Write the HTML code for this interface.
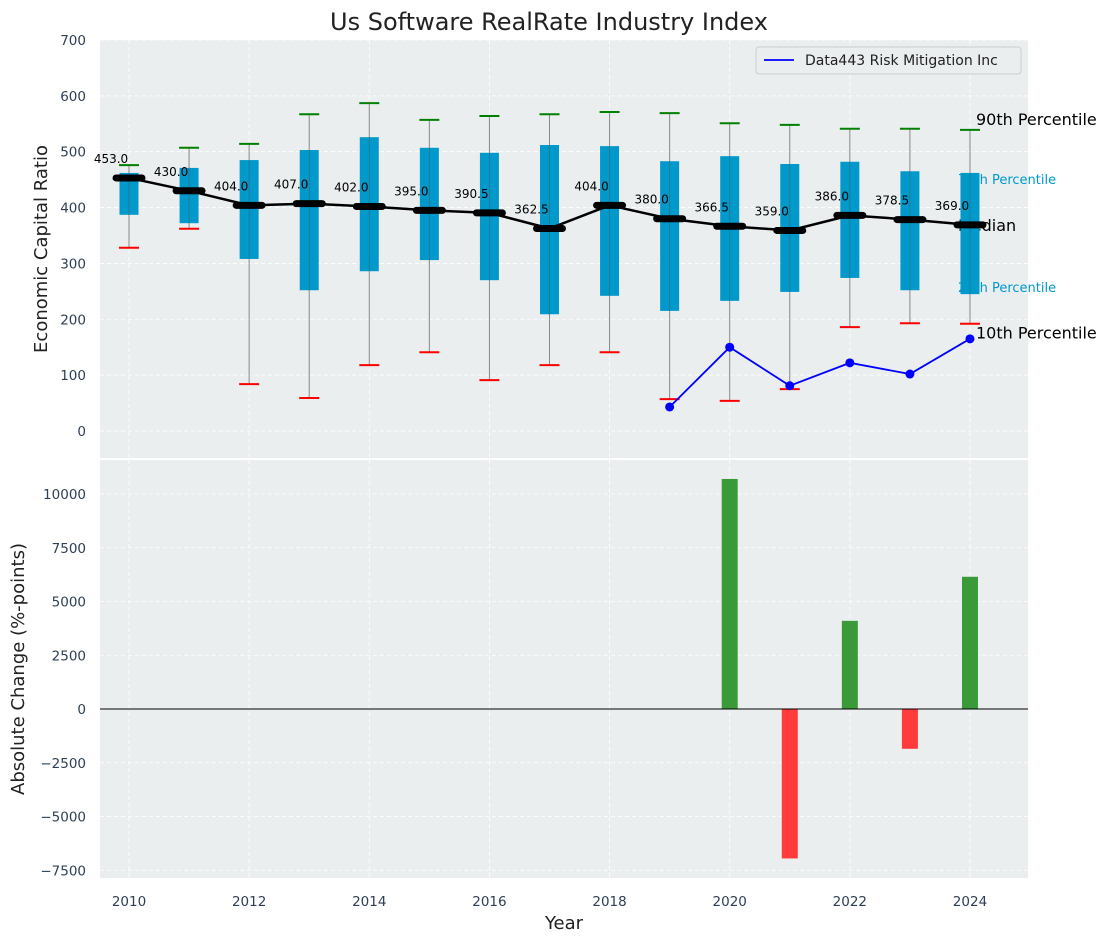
<!DOCTYPE html>
<html><head><meta charset="utf-8"><style>
body{margin:0;background:#fff;font-family:"Liberation Sans","DejaVu Sans",sans-serif}
svg text{font-family:"DejaVu Sans","Liberation Sans",sans-serif}
</style></head><body>
<svg id="c" width="1111" height="942" xmlns="http://www.w3.org/2000/svg">
<rect x="100" y="40" width="928" height="418" fill="#eaeeef"/>
<rect x="100" y="460" width="928" height="418" fill="#eaeeef"/>
<text x="549" y="30" font-size="24" text-anchor="middle" fill="#222">Us Software RealRate Industry Index</text>
<g id="g"></g>
</svg>
<script>
const years=[2010,2011,2012,2013,2014,2015,2016,2017,2018,2019,2020,2021,2022,2023,2024];
const q1=[387,372,308,252,286,306,270,209,242,215,233,249,274,252,245];
const q3=[462,471,485,503,526,507,498,512,510,483,492,478,482,465,462];
const p10=[328,362,84,59,118,141,91,118,141,57,54,75,186,193,192];
const p90=[476,507,514,567,587,557,564,567,571,569,551,548,541,541,539];
const medians=[453,430,404,407,402,395,390.5,362.5,404,380,366.5,359,386,378.5,369];
const compYears=[2019,2020,2021,2022,2023,2024];
const compVals=[43,150,81,122,102,165];
const chgYears=[2020,2021,2022,2023,2024];
const chgVals=[10700,-6950,4100,-1850,6150];
const topTicks=[0,100,200,300,400,500,600,700];
const botTicks=[-7500,-5000,-2500,0,2500,5000,7500,10000];
const xTicks=[2010,2012,2014,2016,2018,2020,2022,2024];

const X=y=>129+(y-2010)*60.07;
const YT=v=>431-v*0.5586;
const YB=v=>709-v*0.0215;
const NS='http://www.w3.org/2000/svg';
const g=document.getElementById('g');
function el(t,a,txt){const e=document.createElementNS(NS,t);for(const k in a)e.setAttribute(k,a[k]);if(txt!==undefined)e.textContent=txt;g.appendChild(e);return e;}

topTicks.forEach(v=>{
  el('line',{x1:100,x2:1028,y1:YT(v),y2:YT(v),stroke:'#fff','stroke-dasharray':'4,3','stroke-width':0.8});
  const t=el('text',{x:86,y:YT(v)+5,'font-size':13.5,'text-anchor':'end',fill:'#2e3f55'},v);
  
  
});
botTicks.forEach(v=>{
  el('line',{x1:100,x2:1028,y1:YB(v),y2:YB(v),stroke:'#fff','stroke-dasharray':'4,3','stroke-width':0.8});
  const t=el('text',{x:86,y:YB(v)+5,'font-size':13.5,'text-anchor':'end',fill:'#2e3f55'},v<0?'\u2212'+(-v):v);
  
  
});
xTicks.forEach(v=>{
  el('line',{x1:X(v),x2:X(v),y1:40,y2:458,stroke:'#fff','stroke-dasharray':'4,3','stroke-width':0.8});
  el('line',{x1:X(v),x2:X(v),y1:460,y2:878,stroke:'#fff','stroke-dasharray':'4,3','stroke-width':0.8});
  const t=el('text',{x:X(v),y:906,'font-size':13.5,'text-anchor':'middle',fill:'#2e3f55'},v);
  
  
});
let t;
t=el('text',{x:47,y:249,'font-size':18,'text-anchor':'middle',fill:'#222',transform:'rotate(-90 47 249)'},'Economic Capital Ratio');

t=el('text',{x:24,y:669,'font-size':18,'text-anchor':'middle',fill:'#222',transform:'rotate(-90 24 669)'},'Absolute Change (%-points)');

t=el('text',{x:564,y:929,'font-size':18,'text-anchor':'middle',fill:'#222'},'Year');


const L=years.length-1, lx=X(years[L]);
[[lx+6,YT(p90[L])-5,'90th Percentile',16,'#000'],[lx-12,YT(q3[L])+11,'75th Percentile',13,'#0099cc'],
 [lx-12,YT(medians[L])+6,'Median',16,'#000'],[lx-12,YT(q1[L])-2,'25th Percentile',13,'#0099cc'],
 [lx+6,YT(p10[L])+15,'10th Percentile',16,'#000']].forEach(a=>{
  const e=el('text',{x:a[0],y:a[1],'font-size':a[3],fill:a[4]},a[2]);
  
  
});

years.forEach((y,i)=>{
  const x=X(y);
  const w=el('line',{x1:x,x2:x,y1:YT(p10[i]),y2:YT(p90[i]),stroke:'#888','stroke-width':1});
  
  const b=el('rect',{x:x-9.5,y:YT(q3[i]),width:19,height:YT(q1[i])-YT(q3[i]),fill:'#0099cc'});
  
  el('line',{x1:x,x2:x,y1:YT(q1[i]),y2:YT(q3[i]),stroke:'#555','stroke-width':0.8,opacity:0.6});
  const c1=el('line',{x1:x-10,x2:x+10,y1:YT(p90[i]),y2:YT(p90[i]),stroke:'green','stroke-width':2});
  
  const c2=el('line',{x1:x-10,x2:x+10,y1:YT(p10[i]),y2:YT(p10[i]),stroke:'red','stroke-width':2});
  
});
const ml=el('polyline',{points:years.map((y,i)=>X(y)+','+YT(medians[i])).join(' '),fill:'none',stroke:'#000','stroke-width':2.5});

years.forEach((y,i)=>{
  const m=el('line',{x1:X(y)-13,x2:X(y)+13,y1:YT(medians[i]),y2:YT(medians[i]),stroke:'#000','stroke-width':7,'stroke-linecap':'round'});
  
  const l=el('text',{x:X(y)-18,y:YT(medians[i])-15,'font-size':12,'text-anchor':'middle',fill:'#000'},medians[i].toFixed(1));
  
});
const cl=el('polyline',{points:compYears.map((y,i)=>X(y)+','+YT(compVals[i])).join(' '),fill:'none',stroke:'blue','stroke-width':1.8});

compYears.forEach((y,i)=>{
  const p=el('circle',{cx:X(y),cy:YT(compVals[i]),r:4.5,fill:'blue'});
  
});
const lg=el('rect',{x:756,y:47,width:265,height:27,fill:'#eaeeef',stroke:'#ccc',rx:3});

el('line',{x1:764,x2:794,y1:60,y2:60,stroke:'blue','stroke-width':1.8});
t=el('text',{x:805,y:65,'font-size':14,fill:'#222'},'Data443 Risk Mitigation Inc');


chgYears.forEach((y,i)=>{
  const v=chgVals[i];
  const r=el('rect',{x:X(y)-8,y:Math.min(YB(v),YB(0)),width:16,height:Math.abs(YB(v)-YB(0)),fill:v>=0?'#3a9a3a':'#ff3b3b'});
  
});
el('line',{x1:100,x2:1028,y1:YB(0),y2:YB(0),stroke:'#000','stroke-width':1});
</script>
</body></html>
